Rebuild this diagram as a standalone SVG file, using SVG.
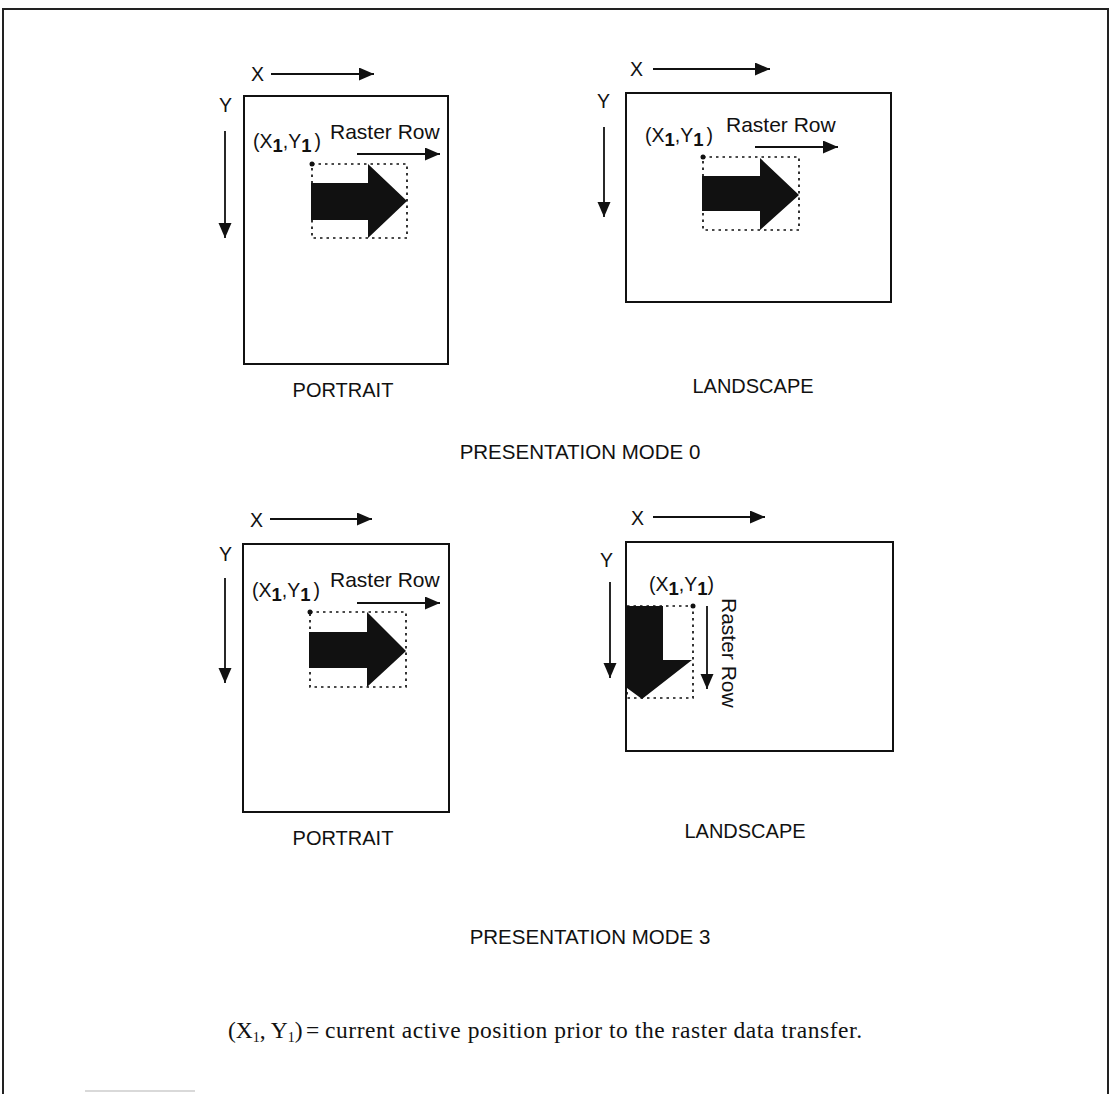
<svg xmlns="http://www.w3.org/2000/svg" width="1110" height="1094" viewBox="0 0 1110 1094">
  <style>
    .sans { font-family: "Liberation Sans", Arial, Helvetica, sans-serif; fill: #111; }
    .lbl { font-size: 19.5px; }
    .cap { font-size: 20px; }
    .title { font-size: 20.5px; }
    .rr { font-size: 21px; }
    .sub { font-weight: bold; font-size: 18.5px; }
    .page { fill: none; stroke: #111; stroke-width: 2; }
    .dots { fill: none; stroke: #111; stroke-width: 1.7; stroke-dasharray: 2.5 4; }
    .axis { stroke: #111; stroke-width: 1.8; fill: none; marker-end: url(#head); }
    .serif { font-family: "Liberation Serif", "Times New Roman", serif; fill: #111; font-size: 23.5px; }
  </style>
  <defs>
    <marker id="head" markerUnits="userSpaceOnUse" markerWidth="16" markerHeight="14" refX="15" refY="6.5" orient="auto">
      <path d="M0,0 L15,6.5 L0,13 z" fill="#111"/>
    </marker>
  </defs>

  <rect width="1110" height="1094" fill="#fff"/>

  <!-- outer frame (open at the bottom) -->
  <g id="frame" fill="none">
    <path d="M3,1094 V9 H1108 V1094" stroke="#222" stroke-width="2"/>
    <line x1="85" y1="1091" x2="195" y2="1091" stroke="#ccc" stroke-width="1.5"/>
  </g>

  <!-- Mode 0, portrait -->
  <g id="mode0-portrait">
    <rect class="page" x="244" y="96" width="204" height="268"/>
    <text class="sans lbl" x="251" y="81">X</text>
    <text class="sans lbl" x="219" y="112">Y</text>
    <rect class="dots" x="312" y="164" width="95" height="74"/>
    <path d="M311,183 H368 V164 L407,201 L368,238 V220 H311 z" fill="#111"/>
    <circle cx="312" cy="164" r="2.5" fill="#111"/>
    <text class="sans lbl" x="253" y="148">(X<tspan class="sub" dy="4">1</tspan><tspan dy="-4">,Y</tspan><tspan class="sub" dy="4">1</tspan><tspan dy="-4" dx="3">)</tspan></text>
    <text class="sans rr" x="330" y="139">Raster Row</text>
    <text class="sans cap" x="343" y="397" text-anchor="middle">PORTRAIT</text>
  </g>

  <!-- Mode 0, landscape -->
  <g id="mode0-landscape">
    <rect class="page" x="626" y="93" width="265" height="209"/>
    <text class="sans lbl" x="630" y="76">X</text>
    <text class="sans lbl" x="597" y="108">Y</text>
    <rect class="dots" x="703" y="157" width="96" height="73"/>
    <path d="M702,176 H760 V158 L799,195 L760,230 V211 H702 z" fill="#111"/>
    <circle cx="703" cy="157" r="2.5" fill="#111"/>
    <text class="sans lbl" x="645" y="142">(X<tspan class="sub" dy="4">1</tspan><tspan dy="-4">,Y</tspan><tspan class="sub" dy="4">1</tspan><tspan dy="-4" dx="3">)</tspan></text>
    <text class="sans rr" x="726" y="132">Raster Row</text>
    <text class="sans cap" x="753" y="393" text-anchor="middle">LANDSCAPE</text>
  </g>

  <text id="mode0-title" class="sans title" x="580" y="459" text-anchor="middle">PRESENTATION MODE 0</text>

  <!-- Mode 3, portrait -->
  <g id="mode3-portrait">
    <rect class="page" x="243" y="544" width="206" height="268"/>
    <text class="sans lbl" x="250" y="527">X</text>
    <text class="sans lbl" x="219" y="561">Y</text>
    <rect class="dots" x="310" y="612" width="96" height="75"/>
    <path d="M309,632 H367 V612 L406,651 L367,687 V668 H309 z" fill="#111"/>
    <circle cx="310" cy="612" r="2.5" fill="#111"/>
    <text class="sans lbl" x="252" y="597">(X<tspan class="sub" dy="4">1</tspan><tspan dy="-4">,Y</tspan><tspan class="sub" dy="4">1</tspan><tspan dy="-4" dx="3">)</tspan></text>
    <text class="sans rr" x="330" y="587">Raster Row</text>
    <text class="sans cap" x="343" y="845" text-anchor="middle">PORTRAIT</text>
  </g>

  <!-- Mode 3, landscape -->
  <g id="mode3-landscape">
    <rect class="page" x="626" y="542" width="267" height="209"/>
    <text class="sans lbl" x="631" y="525">X</text>
    <text class="sans lbl" x="600" y="567">Y</text>
    <rect class="dots" x="627" y="606" width="66" height="92"/>
    <path d="M627,606 H663 V660 H692 L642,699 L627,688 z" fill="#111"/>
    <circle cx="693" cy="606" r="2.5" fill="#111"/>
    <text class="sans lbl" x="649" y="591">(X<tspan class="sub" dy="4">1</tspan><tspan dy="-4">,Y</tspan><tspan class="sub" dy="4">1</tspan><tspan dy="-4">)</tspan></text>
    <text class="sans rr" x="0" y="0" transform="translate(722,598) rotate(90)">Raster Row</text>
    <text class="sans cap" x="745" y="838" text-anchor="middle">LANDSCAPE</text>
  </g>

  <text id="mode3-title" class="sans title" x="590" y="944" text-anchor="middle">PRESENTATION MODE 3</text>

  <!-- axis and raster-row arrows -->
  <g id="connectors">
    <line class="axis" x1="271" y1="74" x2="374" y2="74"/>
    <line class="axis" x1="225" y1="131" x2="225" y2="238"/>
    <line class="axis" x1="357" y1="154" x2="440" y2="154"/>

    <line class="axis" x1="653" y1="69" x2="770" y2="69"/>
    <line class="axis" x1="604" y1="127" x2="604" y2="217"/>
    <line class="axis" x1="755" y1="147" x2="838" y2="147"/>

    <line class="axis" x1="270" y1="519" x2="372" y2="519"/>
    <line class="axis" x1="225" y1="578" x2="225" y2="683"/>
    <line class="axis" x1="357" y1="603" x2="440" y2="603"/>

    <line class="axis" x1="653" y1="517" x2="765" y2="517"/>
    <line class="axis" x1="610" y1="582" x2="610" y2="678"/>
    <line class="axis" x1="707" y1="606" x2="707" y2="689"/>
  </g>

  <!-- legend line -->
  <g id="legend">
    <text class="serif" x="228" y="1038" font-size="21">(X<tspan font-size="14" dy="4">1</tspan><tspan dy="-4">, Y</tspan><tspan font-size="14" dy="4">1</tspan><tspan dy="-4">)</tspan></text>
    <text class="serif" x="306" y="1038">=</text>
    <text class="serif" x="325" y="1038" textLength="537" lengthAdjust="spacing">current active position prior to the raster data transfer.</text>
  </g>
</svg>
